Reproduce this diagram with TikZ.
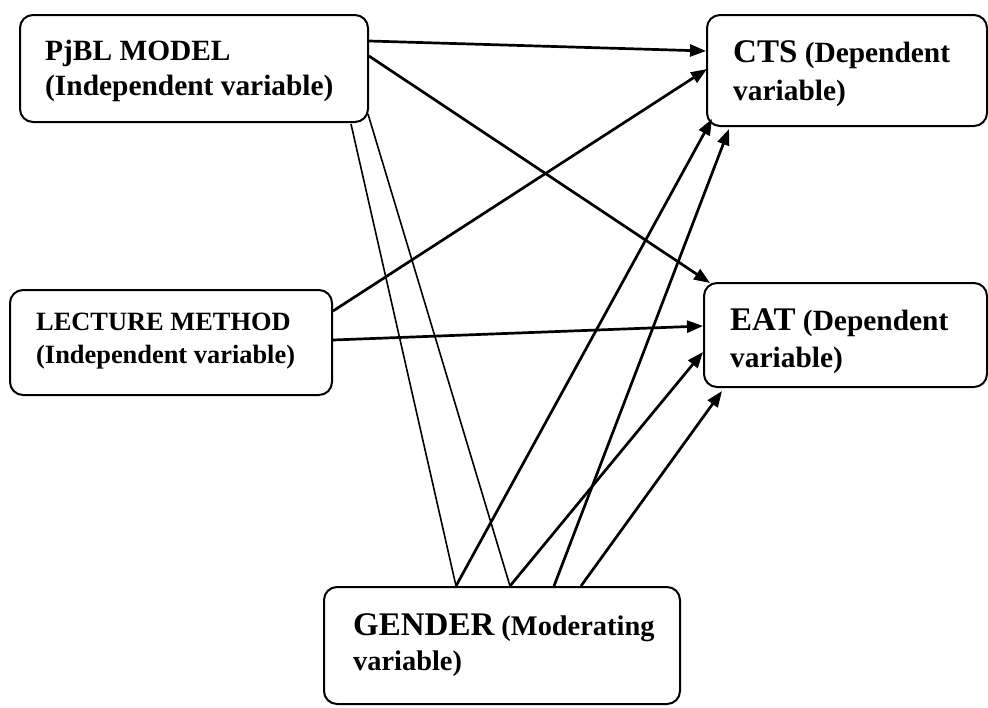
\documentclass[tikz,border=0pt]{standalone}
\usepackage{fontspec}
\setmainfont{Liberation Serif}
\usetikzlibrary{arrows.meta,calc}
\begin{document}
\begin{tikzpicture}[x=1pt,y=-1pt,
  box/.style={draw=black,line width=2pt,rounded corners=13pt,inner sep=0pt,fill=none},
  txt/.style={inner sep=0pt,anchor=base west},
  fa/.style={font=\bfseries\fontsize{29.4}{35}\selectfont},
  fb/.style={font=\bfseries\fontsize{26.4}{33}\selectfont},
  arr/.style={line width=2.7pt,-{Triangle[length=16pt,width=12pt]}},
  thinline/.style={line width=1.6pt}]
\useasboundingbox (0,0) rectangle (988,707);
% boxes
\node[box,minimum width=348pt,minimum height=107pt] (pjbl) at (194,68.5) {};
\node[box,minimum width=322pt,minimum height=105pt] (lect) at (171,342.5) {};
\node[box,minimum width=280pt,minimum height=111pt] (cts) at (847,70.5) {};
\node[box,minimum width=283pt,minimum height=104pt] (eat) at (845.5,335) {};
\node[box,minimum width=356pt,minimum height=117pt] (gend) at (502,645.5) {};
% texts
\node[txt,fa] (pjblA) at (45,60) {PjBL MODEL};
\node[txt,fa] (pjblB) at (45,95) {(Independent variable)};
\node[txt,fb] (lectA) at (36,330) {LECTURE METHOD};
\node[txt,fb] (lectB) at (36,363) {(Independent variable)};
\node[txt,fa] (ctsA) at (733,62) {{\fontsize{33}{38}\selectfont CTS} (Dependent};
\node[txt,fa] (ctsB) at (733,100) {variable)};
\node[txt,fa] (eatA) at (730,330) {{\fontsize{33}{38}\selectfont EAT} (Dependent};
\node[txt,fa] (eatB) at (730,367) {variable)};
\node[txt,font=\bfseries\fontsize{28.4}{35}\selectfont] (gendA) at (353,635) {{\fontsize{33}{38}\selectfont GENDER} (Moderating};
\node[txt,font=\bfseries\fontsize{28.4}{35}\selectfont] (gendB) at (353,670) {variable)};
% connectors
\draw[arr] ($(pjbl.north east)+(0,27)$) -- ($(cts.north west)+(0,37)$);
\draw[arr] ($(pjbl.north east)+(0,42)$) -- ($(eat.north west)+(7,1)$);
\draw[arr] ($(lect.north east)+(0,22)$) -- ($(cts.north west)+(1,55)$);
\draw[arr] ($(lect.north east)+(0,51)$) -- ($(eat.north west)+(0,44)$);
\draw[thinline] ($(pjbl.south east)+(-18,1)$) -- ($(gend.north west)+(133,0)$);
\draw[thinline] ($(pjbl.south east)+(-1,-9)$) -- ($(gend.north west)+(187,0)$);
\draw[arr] ($(gend.north west)+(133,0)$) -- ($(cts.south west)+(6,-8)$);
\draw[arr] ($(gend.north west)+(187,0)$) -- ($(eat.north west)+(0,70)$);
\draw[arr] ($(gend.north west)+(231,0)$) -- ($(cts.south west)+(23,2)$);
\draw[arr] ($(gend.north west)+(258,0)$) -- ($(eat.south west)+(19,3)$);
\end{tikzpicture}
\end{document}
